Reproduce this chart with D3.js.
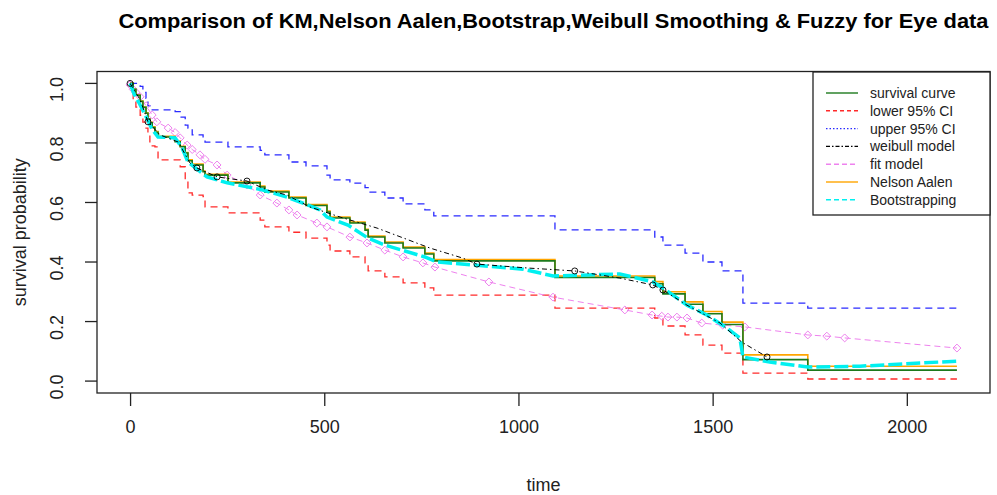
<!DOCTYPE html>
<html>
<head>
<meta charset="utf-8">
<script src="https://cdn.jsdelivr.net/npm/d3@7"></script>
<style>
  body { margin: 0; background: #fff; }
  svg { display: block; font-family: "Liberation Sans", Arial, sans-serif; }
</style>
</head>
<body>
<svg id="chart" width="997" height="495"></svg>
<script>
// step times shared by KM, Nelson Aalen and the 95% CI
const stepTime = [0, 8, 15, 26, 33, 41, 46, 51, 57, 64, 72, 116, 129, 142, 149, 160, 188, 193, 252,
  335, 347, 409, 453, 507, 515, 566, 605, 613, 656, 703, 759, 782, 1094, 1351, 1372, 1429, 1475,
  1524, 1578, 1745, 2129];
const kmSurv = [1, 0.98, 0.96, 0.94, 0.92, 0.9, 0.88, 0.868, 0.852, 0.836, 0.82, 0.804, 0.787, 0.766,
  0.74, 0.726, 0.703, 0.692, 0.666, 0.652, 0.635, 0.615, 0.59, 0.568, 0.548, 0.531, 0.507, 0.484, 0.464,
  0.447, 0.427, 0.404, 0.348, 0.327, 0.293, 0.258, 0.226, 0.19, 0.072, 0.037, 0.037];
const naSurv = [1, 0.98, 0.961, 0.941, 0.921, 0.901, 0.881, 0.869, 0.854, 0.838, 0.822, 0.806, 0.789,
  0.768, 0.743, 0.729, 0.706, 0.695, 0.669, 0.655, 0.638, 0.618, 0.593, 0.571, 0.551, 0.534, 0.51, 0.487,
  0.467, 0.45, 0.43, 0.408, 0.353, 0.334, 0.3, 0.266, 0.234, 0.198, 0.088, 0.05, 0.05];
const lowerCI = [1, 0.945, 0.92, 0.893, 0.87, 0.85, 0.83, 0.795, 0.79, 0.787, 0.743, 0.743, 0.72, 0.676,
  0.632, 0.625, 0.62, 0.585, 0.565, 0.541, 0.518, 0.5, 0.48, 0.457, 0.437, 0.417, 0.397, 0.37, 0.35, 0.33,
  0.313, 0.289, 0.245, 0.212, 0.185, 0.155, 0.121, 0.094, 0.027, 0.007, 0.007];
const upperCI = [1, 1, 1, 0.99, 0.97, 0.95, 0.925, 0.915, 0.911, 0.911, 0.911, 0.905, 0.887, 0.86, 0.85,
  0.827, 0.815, 0.803, 0.787, 0.775, 0.76, 0.736, 0.723, 0.692, 0.676, 0.665, 0.65, 0.635, 0.615, 0.595,
  0.575, 0.555, 0.508, 0.484, 0.457, 0.43, 0.4, 0.37, 0.262, 0.245, 0.245];

// weibull smoothing
const weibullTime = [0, 26, 46, 77, 124, 154, 172, 224, 301, 353, 404, 463, 541, 636, 703, 772, 857, 893,
  1022, 1145, 1261, 1346, 1372, 1434, 1519, 1575, 1640];
const weibullSurv = [1, 0.945, 0.871, 0.827, 0.803, 0.733, 0.716, 0.686, 0.672, 0.642, 0.625, 0.585,
  0.551, 0.514, 0.481, 0.447, 0.413, 0.393, 0.38, 0.37, 0.346, 0.323, 0.306, 0.255, 0.195, 0.131, 0.081];
const weibullMarks = [0, 46, 172, 224, 301, 893, 1145, 1346, 1372, 1640];

// fuzzy fit model
const fitTime = [0, 8, 15, 26, 41, 57, 69, 98, 116, 129, 147, 160, 180, 193, 224, 250, 301, 335, 378,
  409, 430, 481, 507, 566, 610, 656, 703, 754, 785, 924, 1089, 1274, 1344, 1369, 1385, 1408, 1434, 1472,
  1526, 1583, 1745, 1794, 1840, 2129];
const fitSurv = [0.995, 0.98, 0.97, 0.955, 0.925, 0.894, 0.871, 0.85, 0.835, 0.817, 0.793, 0.778, 0.76,
  0.745, 0.726, 0.692, 0.659, 0.625, 0.598, 0.575, 0.558, 0.531, 0.518, 0.484, 0.464, 0.44, 0.417, 0.397,
  0.383, 0.333, 0.282, 0.239, 0.222, 0.218, 0.215, 0.215, 0.212, 0.195, 0.188, 0.182, 0.155, 0.151,
  0.145, 0.111];

// bootstrapping
const bootTime = [0, 10, 25, 46, 57, 72, 116, 134, 149, 198, 250, 342, 404, 445, 489, 507, 561, 613, 656,
  700, 759, 790, 1012, 1089, 1261, 1346, 1372, 1434, 1485, 1537, 1570, 1578, 1647, 1745, 1879, 2129];
const bootSurv = [1, 0.965, 0.93, 0.875, 0.845, 0.82, 0.817, 0.783, 0.736, 0.686, 0.666, 0.642, 0.618,
  0.598, 0.575, 0.551, 0.524, 0.48, 0.457, 0.44, 0.417, 0.4, 0.376, 0.353, 0.36, 0.333, 0.313, 0.255,
  0.222, 0.178, 0.145, 0.081, 0.064, 0.047, 0.05, 0.067];

const xTicks = [0, 500, 1000, 1500, 2000];
const yTicks = [0, 0.2, 0.4, 0.6, 0.8, 1.0];

const legendLabels = ["survival curve", "lower 95% CI", "upper 95% CI", "weibull model", "fit model",
  "Nelson Aalen", "Bootstrapping"];

const COL = {
  km: "#1d7a1d", lower: "#ff2a2a", upper: "#2a2aff", weibull: "#000000",
  fit: "#ee82ee", na: "#ffa500", boot: "#00f0f0"
};

const svg = d3.select("#chart");
const PLOT = { left: 97, right: 990, top: 71.5, bottom: 393 };

const tMax = d3.max(stepTime);
const x = d3.scaleLinear().domain([-0.04 * tMax, 1.04 * tMax]).range([PLOT.left, PLOT.right]);
const y = d3.scaleLinear().domain([-0.04, 1.04]).range([PLOT.bottom, PLOT.top]);

const g = svg.append("g");

// curves, clipped to the plot box
svg.append("clipPath").attr("id", "clip").append("rect")
  .attr("x", PLOT.left).attr("y", PLOT.top)
  .attr("width", PLOT.right - PLOT.left).attr("height", PLOT.bottom - PLOT.top);
const curves = g.append("g").attr("clip-path", "url(#clip)");

const stepLine = d3.line().curve(d3.curveStepAfter).x(d => x(d[0])).y(d => y(d[1]));
const plainLine = d3.line().x(d => x(d[0])).y(d => y(d[1]));

function draw(times, vals, gen, col, width, dash) {
  curves.append("path")
    .datum(times.map((t, i) => [t, vals[i]]))
    .attr("d", gen)
    .attr("fill", "none")
    .attr("stroke", col)
    .attr("stroke-width", width)
    .attr("stroke-dasharray", dash);
}

draw(stepTime, upperCI, stepLine, COL.upper, 1.3, "7,5");
draw(stepTime, lowerCI, stepLine, COL.lower, 1.3, "7,5");

// fit model with diamond markers
draw(fitTime, fitSurv, plainLine, COL.fit, 1, "6,4");
curves.selectAll("path.fit-mark")
  .data(fitTime.map((t, i) => [t, fitSurv[i]]))
  .enter()
  .append("path")
  .attr("class", "fit-mark")
  .attr("d", d3.symbol(d3.symbolDiamond2, 40))
  .attr("transform", d => `translate(${x(d[0])},${y(d[1])})`)
  .attr("fill", "none")
  .attr("stroke", COL.fit)
  .attr("stroke-width", 1);

draw(stepTime, naSurv, stepLine, COL.na, 1.6, null);
draw(stepTime, kmSurv, stepLine, COL.km, 1.6, null);
draw(bootTime, bootSurv, plainLine, COL.boot, 3.5, "14,4");

// weibull model with open circles
draw(weibullTime, weibullSurv, plainLine, COL.weibull, 1, "5,3,1.5,3");
curves.selectAll("circle.wb-mark")
  .data(weibullMarks.map(t => [t, weibullSurv[weibullTime.indexOf(t)]]))
  .enter()
  .append("circle")
  .attr("class", "wb-mark")
  .attr("cx", d => x(d[0]))
  .attr("cy", d => y(d[1]))
  .attr("r", 3)
  .attr("fill", "none")
  .attr("stroke", COL.weibull)
  .attr("stroke-width", 0.9);

// plot box
g.append("rect")
  .attr("x", PLOT.left).attr("y", PLOT.top)
  .attr("width", PLOT.right - PLOT.left).attr("height", PLOT.bottom - PLOT.top)
  .attr("fill", "none").attr("stroke", "#222").attr("stroke-width", 1.3);

// axes
const xAxis = g.append("g")
  .attr("transform", `translate(0,${PLOT.bottom})`)
  .call(d3.axisBottom(x).tickValues(xTicks).tickSize(13).tickPadding(14).tickFormat(d3.format("d")));
const yAxis = g.append("g")
  .attr("transform", `translate(${PLOT.left},0)`)
  .call(d3.axisLeft(y).tickValues(yTicks).tickSize(12).tickFormat(d3.format(".1f")));

[xAxis, yAxis].forEach(a => {
  a.select(".domain").remove();
  a.selectAll("line").attr("stroke", "#222").attr("stroke-width", 1.3);
  a.selectAll("text").attr("fill", "#222").style("font-size", "18px")
    .style("font-family", "Liberation Sans, Arial, sans-serif");
});
yAxis.selectAll("text")
  .attr("text-anchor", "middle")
  .attr("x", null).attr("dy", null)
  .attr("transform", d => `translate(${63 - PLOT.left},${y(d) + 6}) rotate(-90)`)
  .attr("y", 0);
yAxis.selectAll(".tick").attr("transform", null);
yAxis.selectAll(".tick line").attr("transform", d => `translate(0,${y(d)})`);

// axis titles
g.append("text")
  .attr("x", (PLOT.left + PLOT.right) / 2).attr("y", 491)
  .attr("text-anchor", "middle").attr("fill", "#222")
  .style("font-size", "18px").text("time");
g.append("text")
  .attr("transform", `translate(26,${(PLOT.top + PLOT.bottom) / 2}) rotate(-90)`)
  .attr("text-anchor", "middle").attr("fill", "#222")
  .style("font-size", "18px").text("survival probability");

// title
g.append("text")
  .attr("x", (PLOT.left + PLOT.right) / 2 + 10).attr("y", 28)
  .attr("text-anchor", "middle").attr("fill", "#000")
  .attr("textLength", 870).attr("lengthAdjust", "spacingAndGlyphs")
  .style("font-size", "20px").style("font-weight", "bold")
  .text("Comparison of KM,Nelson Aalen,Bootstrap,Weibull Smoothing & Fuzzy for Eye data");

// legend
const LEG = { left: 813, top: 72, right: 990, bottom: 215, rowY: 93, rowH: 17.8 };
const legend = g.append("g");
legend.append("rect")
  .attr("x", LEG.left).attr("y", LEG.top)
  .attr("width", LEG.right - LEG.left).attr("height", LEG.bottom - LEG.top)
  .attr("fill", "#fff").attr("stroke", "#222").attr("stroke-width", 1.3);

const legendStyle = [
  { col: COL.km, dash: null },
  { col: COL.lower, dash: "4,3" },
  { col: COL.upper, dash: "1.5,2" },
  { col: COL.weibull, dash: "4,2,1.5,2" },
  { col: COL.fit, dash: "5,3" },
  { col: COL.na, dash: null },
  { col: COL.boot, dash: "5,3" }
];

const rows = legend.selectAll("g.row")
  .data(legendLabels)
  .enter()
  .append("g")
  .attr("class", "row")
  .attr("transform", (d, i) => `translate(0,${LEG.rowY + i * LEG.rowH})`);
rows.append("line")
  .attr("x1", 826).attr("x2", 858).attr("y1", 0).attr("y2", 0)
  .attr("stroke", (d, i) => legendStyle[i].col)
  .attr("stroke-width", 1.4)
  .attr("stroke-dasharray", (d, i) => legendStyle[i].dash);
rows.append("text")
  .attr("x", 870).attr("y", 5)
  .attr("fill", "#222")
  .style("font-size", "14px")
  .text(d => d);
</script>
</body>
</html>
